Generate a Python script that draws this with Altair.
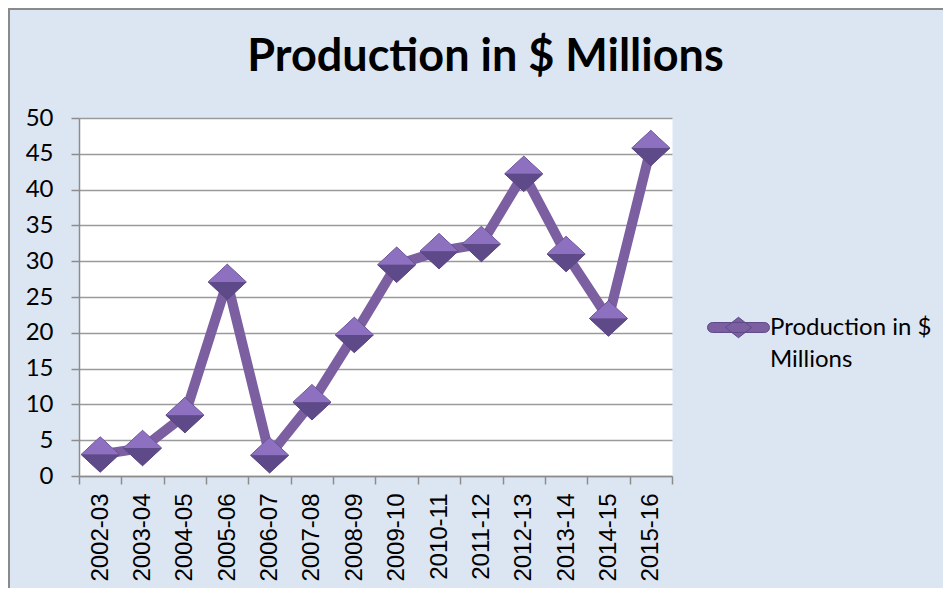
import altair as alt
import pandas as pd

years = ["2002-03", "2003-04", "2004-05", "2005-06", "2006-07", "2007-08", "2008-09",
         "2009-10", "2010-11", "2011-12", "2012-13", "2013-14", "2014-15", "2015-16"]
production = [3.0, 3.9, 8.5, 27.1, 2.9, 10.3, 19.7, 29.5, 31.4, 32.4, 42.2, 31.0, 22.0, 45.8]
series_name = "Production in $ Millions"
legend_lines = ["Production in $", "Millions"]
y_ticks = [0, 5, 10, 15, 20, 25, 30, 35, 40, 45, 50]

df = pd.DataFrame({"year": years, "value": production, "series": [series_name] * len(years)})

x = alt.X("year:N", sort=years,
          scale=alt.Scale(type="band", paddingInner=0, paddingOuter=0),
          axis=alt.Axis(title=None, labelAngle=-90, labelAlign="right", labelBaseline="middle",
                        tickBand="extent", grid=False, labelFont="Liberation Sans",
                        labelFontSize=24, labelColor="black", labelPadding=9,
                        tickSize=8, tickColor="#8c8c8c", tickWidth=1.5,
                        domainColor="#8c8c8c", domainWidth=1.5))
y = alt.Y("value:Q", scale=alt.Scale(domain=[0, 50], nice=False, zero=True),
          axis=alt.Axis(title=None, values=y_ticks, grid=True, gridColor="#9a9a9a", gridWidth=1.5,
                        labelFont="Lato", labelFontSize=24, labelColor="black", labelPadding=18,
                        tickSize=8, tickColor="#8c8c8c", tickWidth=1.5,
                        domainColor="#8c8c8c", domainWidth=1.5))

base = alt.Chart(df)

line = base.mark_line(color="#7b5fa0", strokeWidth=10).encode(x=x, y=y)

diamond = "M-1,0L0,-0.93L1,0L0,0.93Z"
upper = "M-1,0L0,-0.93L1,0Z"
lower = "M-1,0L1,0L0,0.93Z"
legend_shape = ("M-0.84,-0.16L0.84,-0.16A0.16,0.16,0,0,1,0.84,0.16L-0.84,0.16A0.16,0.16,0,0,1,-0.84,-0.16Z "
                "M-0.42,0L0,-0.33L0.42,0L0,0.33Z")

label_expr = "[" + ", ".join("'" + s + "'" for s in legend_lines) + "]"

full = base.mark_point(shape=diamond, filled=True, size=1450, opacity=1,
                       stroke="#54407a", strokeWidth=1).encode(
    x=x, y=y,
    color=alt.Color("series:N", scale=alt.Scale(domain=[series_name], range=["#7b5fa0"]),
                    legend=alt.Legend(title=None, orient="none", legendX=628, legendY=178,
                                      symbolType=legend_shape, symbolSize=3844,
                                      symbolStrokeColor="#5e4a87", symbolStrokeWidth=1,
                                      labelFont="Lato", labelFontSize=24, labelColor="black",
                                      labelOffset=0, labelLimit=400, padding=0,
                                      labelExpr=label_expr))
)
up = base.mark_point(shape=upper, filled=True, size=1450, opacity=1, color="#8d70c0").encode(x=x, y=y)
low = base.mark_point(shape=lower, filled=True, size=1450, opacity=1, color="#5f4a89").encode(x=x, y=y)

frame_left = base.mark_rule(color="#8a8a8a", strokeWidth=2).encode(
    x=alt.value(-70), y=alt.value(-110), y2=alt.value(470))
frame_top = base.mark_rule(color="#8a8a8a", strokeWidth=2).encode(
    x=alt.value(-70), x2=alt.value(864), y=alt.value(-109))

chart = alt.layer(frame_left, frame_top, line, full, up, low).properties(
    width=593, height=358,
    title=alt.TitleParams(series_name, font="Lato", fontSize=45, fontWeight="bold", color="black",
                          anchor="middle", frame="group", dx=110, offset=-73),
    autosize=alt.AutoSizeParams(type="none"),
    padding={"left": 71, "top": 110, "right": 271, "bottom": 112},
    background="#dce6f2",
).configure(style={"guide-label": {"lineHeight": 32}}).configure_view(fill="white", strokeOpacity=0)

chart.save("out.html", embed_options={"renderer": "svg", "actions": False})
